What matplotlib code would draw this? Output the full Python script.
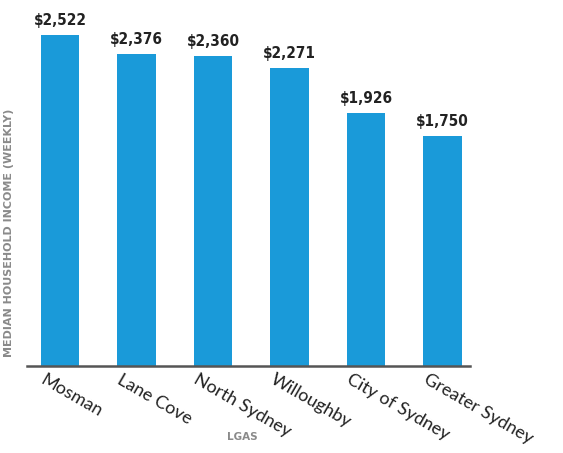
import matplotlib.pyplot as plt
import matplotlib.transforms as mtransforms
import numpy as np

# data
lgas = ["Mosman", "Lane Cove", "North Sydney", "Willoughby", "City of Sydney", "Greater Sydney"]
income = [2522, 2376, 2360, 2271, 1926, 1750]
value_labels = ["$2,522", "$2,376", "$2,360", "$2,271", "$1,926", "$1,750"]

bar_color = "#1a9ad9"

fig = plt.figure(figsize=(5.63, 4.53), dpi=100)
ax = fig.add_axes([0.048, 0.192, 0.787, 0.782])

x = np.arange(len(lgas))
bars = ax.bar(x, income, width=0.5, color=bar_color)

# value labels above bars
for xi, v, lab in zip(x, income, value_labels):
    ax.text(xi, v + 55, lab, ha="center", va="bottom", fontsize=11,
            fontweight="bold", fontstretch="condensed", color="#222222",
            family="DejaVu Sans")

ax.set_xlim(-0.43, 5.36)
ax.set_ylim(0, 2700)

for s in ["top", "right", "left"]:
    ax.spines[s].set_visible(False)
ax.spines["bottom"].set_color("#555555")
ax.spines["bottom"].set_linewidth(1.8)
ax.set_yticks([])

ax.set_xticks(x)
ax.set_xticklabels(lgas, rotation=-30, ha="left", va="top",
                   rotation_mode="anchor", fontsize=13, color="#222222",
                   family="Lato")
ax.tick_params(axis="x", length=0, pad=4)
offset = mtransforms.ScaledTranslation(-14 / 100, 0, fig.dpi_scale_trans)
for lbl in ax.get_xticklabels():
    lbl.set_transform(lbl.get_transform() + offset)

fig.text(0.016, 0.485, "MEDIAN HOUSEHOLD INCOME (WEEKLY)", rotation=90,
         ha="center", va="center", fontsize=8, fontweight="bold", color="#8a8a8a")
fig.text(0.43, 0.035, "LGAS", ha="center", va="center", fontsize=7.5,
         fontweight="bold", color="#8a8a8a")

fig.savefig("out.png", dpi=100)
